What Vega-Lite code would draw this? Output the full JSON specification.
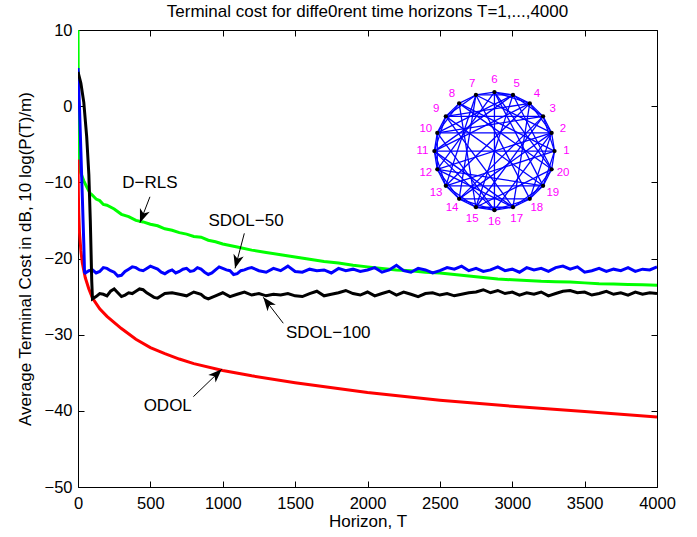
{
  "$schema": "https://vega.github.io/schema/vega-lite/v6.json",
  "width": 579,
  "height": 457,
  "autosize": "none",
  "padding": {"left": 78, "top": 30, "right": 40, "bottom": 50},
  "background": "white",
  "title": {"text": "Terminal cost for diffe0rent time horizons T=1,...,4000", "fontSize": 17, "fontWeight": "normal", "font": "Liberation Sans", "color": "black", "offset": 1},
  "config": {
    "view": {"stroke": null},
    "font": "Liberation Sans",
    "axis": {"domainColor": "black", "tickColor": "black", "labelColor": "black", "titleColor": "black", "labelFontSize": 16.5, "titleFontSize": 17, "titleFontWeight": "normal", "labelFont": "Liberation Sans", "titleFont": "Liberation Sans", "grid": false, "domainWidth": 1, "tickWidth": 1}
  },
  "datasets": {
    "curves": [
      {"s": "D-RLS", "T": 0, "v": 10}, {"s": "D-RLS", "T": 2, "v": 2}, {"s": "D-RLS", "T": 4, "v": -6}, {"s": "D-RLS", "T": 8, "v": -8}, {"s": "D-RLS", "T": 20, "v": -8.8}, {"s": "D-RLS", "T": 40, "v": -9.8}, {"s": "D-RLS", "T": 60, "v": -10.6}, {"s": "D-RLS", "T": 83, "v": -11.4}, {"s": "D-RLS", "T": 100, "v": -11.7}, {"s": "D-RLS", "T": 125, "v": -12.2}, {"s": "D-RLS", "T": 150, "v": -12.4}, {"s": "D-RLS", "T": 175, "v": -12.9}, {"s": "D-RLS", "T": 200, "v": -13.0}, {"s": "D-RLS", "T": 250, "v": -13.5}, {"s": "D-RLS", "T": 300, "v": -14.2}, {"s": "D-RLS", "T": 350, "v": -14.5}, {"s": "D-RLS", "T": 400, "v": -15.0}, {"s": "D-RLS", "T": 450, "v": -15.2}, {"s": "D-RLS", "T": 500, "v": -15.5}, {"s": "D-RLS", "T": 550, "v": -15.7}, {"s": "D-RLS", "T": 600, "v": -16.1}, {"s": "D-RLS", "T": 650, "v": -16.3}, {"s": "D-RLS", "T": 700, "v": -16.6}, {"s": "D-RLS", "T": 750, "v": -16.8}, {"s": "D-RLS", "T": 800, "v": -17.1}, {"s": "D-RLS", "T": 850, "v": -17.2}, {"s": "D-RLS", "T": 900, "v": -17.6}, {"s": "D-RLS", "T": 950, "v": -17.8}, {"s": "D-RLS", "T": 1000, "v": -18.1}, {"s": "D-RLS", "T": 1100, "v": -18.5}, {"s": "D-RLS", "T": 1200, "v": -18.9}, {"s": "D-RLS", "T": 1300, "v": -19.2}, {"s": "D-RLS", "T": 1400, "v": -19.5}, {"s": "D-RLS", "T": 1500, "v": -19.8}, {"s": "D-RLS", "T": 1600, "v": -20.1}, {"s": "D-RLS", "T": 1700, "v": -20.4}, {"s": "D-RLS", "T": 1800, "v": -20.6}, {"s": "D-RLS", "T": 1900, "v": -20.9}, {"s": "D-RLS", "T": 2000, "v": -21.1}, {"s": "D-RLS", "T": 2100, "v": -21.3}, {"s": "D-RLS", "T": 2200, "v": -21.5}, {"s": "D-RLS", "T": 2300, "v": -21.6}, {"s": "D-RLS", "T": 2400, "v": -21.8}, {"s": "D-RLS", "T": 2500, "v": -21.9}, {"s": "D-RLS", "T": 2600, "v": -22.1}, {"s": "D-RLS", "T": 2700, "v": -22.3}, {"s": "D-RLS", "T": 2800, "v": -22.5}, {"s": "D-RLS", "T": 2900, "v": -22.7}, {"s": "D-RLS", "T": 3000, "v": -22.8}, {"s": "D-RLS", "T": 3100, "v": -22.9}, {"s": "D-RLS", "T": 3200, "v": -23.0}, {"s": "D-RLS", "T": 3300, "v": -23.05}, {"s": "D-RLS", "T": 3400, "v": -23.1}, {"s": "D-RLS", "T": 3500, "v": -23.2}, {"s": "D-RLS", "T": 3600, "v": -23.3}, {"s": "D-RLS", "T": 3700, "v": -23.35}, {"s": "D-RLS", "T": 3800, "v": -23.4}, {"s": "D-RLS", "T": 3900, "v": -23.45}, {"s": "D-RLS", "T": 4000, "v": -23.5},

      {"s": "ODOL", "T": 0, "v": -7}, {"s": "ODOL", "T": 1, "v": -9}, {"s": "ODOL", "T": 3, "v": -12}, {"s": "ODOL", "T": 5, "v": -14}, {"s": "ODOL", "T": 10, "v": -16.5}, {"s": "ODOL", "T": 20, "v": -19}, {"s": "ODOL", "T": 30, "v": -20.6}, {"s": "ODOL", "T": 50, "v": -22.5}, {"s": "ODOL", "T": 75, "v": -24}, {"s": "ODOL", "T": 100, "v": -25.2}, {"s": "ODOL", "T": 150, "v": -26.6}, {"s": "ODOL", "T": 200, "v": -27.6}, {"s": "ODOL", "T": 300, "v": -29.2}, {"s": "ODOL", "T": 400, "v": -30.6}, {"s": "ODOL", "T": 500, "v": -31.7}, {"s": "ODOL", "T": 600, "v": -32.5}, {"s": "ODOL", "T": 700, "v": -33.2}, {"s": "ODOL", "T": 800, "v": -33.8}, {"s": "ODOL", "T": 1000, "v": -34.7}, {"s": "ODOL", "T": 1200, "v": -35.4}, {"s": "ODOL", "T": 1500, "v": -36.3}, {"s": "ODOL", "T": 2000, "v": -37.6}, {"s": "ODOL", "T": 2500, "v": -38.6}, {"s": "ODOL", "T": 3000, "v": -39.4}, {"s": "ODOL", "T": 3500, "v": -40.1}, {"s": "ODOL", "T": 4000, "v": -40.8},

      {"s": "SDOL-50", "T": 0, "v": 5.0}, {"s": "SDOL-50", "T": 10, "v": 0}, {"s": "SDOL-50", "T": 20, "v": -6}, {"s": "SDOL-50", "T": 30, "v": -12}, {"s": "SDOL-50", "T": 40, "v": -18}, {"s": "SDOL-50", "T": 45, "v": -21.8}, {"s": "SDOL-50", "T": 50, "v": -21.9}, {"s": "SDOL-50", "T": 75, "v": -21.6}, {"s": "SDOL-50", "T": 100, "v": -21.5}, {"s": "SDOL-50", "T": 125, "v": -21.9}, {"s": "SDOL-50", "T": 150, "v": -21.7}, {"s": "SDOL-50", "T": 175, "v": -21.2}, {"s": "SDOL-50", "T": 200, "v": -21.3}, {"s": "SDOL-50", "T": 225, "v": -21.6}, {"s": "SDOL-50", "T": 250, "v": -21.8}, {"s": "SDOL-50", "T": 275, "v": -22.3}, {"s": "SDOL-50", "T": 300, "v": -22.2}, {"s": "SDOL-50", "T": 325, "v": -21.7}, {"s": "SDOL-50", "T": 350, "v": -21.4}, {"s": "SDOL-50", "T": 375, "v": -21.1}, {"s": "SDOL-50", "T": 400, "v": -21.2}, {"s": "SDOL-50", "T": 425, "v": -21.5}, {"s": "SDOL-50", "T": 450, "v": -21.6}, {"s": "SDOL-50", "T": 475, "v": -21.3}, {"s": "SDOL-50", "T": 500, "v": -21.0}, {"s": "SDOL-50", "T": 525, "v": -21.2}, {"s": "SDOL-50", "T": 550, "v": -21.4}, {"s": "SDOL-50", "T": 575, "v": -21.8}, {"s": "SDOL-50", "T": 600, "v": -22.0}, {"s": "SDOL-50", "T": 625, "v": -21.7}, {"s": "SDOL-50", "T": 650, "v": -21.5}, {"s": "SDOL-50", "T": 675, "v": -21.9}, {"s": "SDOL-50", "T": 700, "v": -21.7}, {"s": "SDOL-50", "T": 725, "v": -21.4}, {"s": "SDOL-50", "T": 750, "v": -21.3}, {"s": "SDOL-50", "T": 775, "v": -21.7}, {"s": "SDOL-50", "T": 800, "v": -21.6}, {"s": "SDOL-50", "T": 825, "v": -21.2}, {"s": "SDOL-50", "T": 850, "v": -21.4}, {"s": "SDOL-50", "T": 875, "v": -21.8}, {"s": "SDOL-50", "T": 900, "v": -22.1}, {"s": "SDOL-50", "T": 925, "v": -21.9}, {"s": "SDOL-50", "T": 950, "v": -21.5}, {"s": "SDOL-50", "T": 975, "v": -21.1}, {"s": "SDOL-50", "T": 1000, "v": -21.3}, {"s": "SDOL-50", "T": 1025, "v": -21.5}, {"s": "SDOL-50", "T": 1050, "v": -21.6}, {"s": "SDOL-50", "T": 1075, "v": -22.1}, {"s": "SDOL-50", "T": 1100, "v": -22.0}, {"s": "SDOL-50", "T": 1125, "v": -21.6}, {"s": "SDOL-50", "T": 1150, "v": -21.5}, {"s": "SDOL-50", "T": 1175, "v": -21.3}, {"s": "SDOL-50", "T": 1200, "v": -21.2}, {"s": "SDOL-50", "T": 1250, "v": -21.6}, {"s": "SDOL-50", "T": 1300, "v": -21.8}, {"s": "SDOL-50", "T": 1350, "v": -21.3}, {"s": "SDOL-50", "T": 1400, "v": -21.6}, {"s": "SDOL-50", "T": 1450, "v": -21.0}, {"s": "SDOL-50", "T": 1500, "v": -21.7}, {"s": "SDOL-50", "T": 1550, "v": -21.8}, {"s": "SDOL-50", "T": 1600, "v": -21.4}, {"s": "SDOL-50", "T": 1650, "v": -21.6}, {"s": "SDOL-50", "T": 1700, "v": -21.5}, {"s": "SDOL-50", "T": 1750, "v": -21.9}, {"s": "SDOL-50", "T": 1800, "v": -21.3}, {"s": "SDOL-50", "T": 1850, "v": -21.6}, {"s": "SDOL-50", "T": 1900, "v": -21.4}, {"s": "SDOL-50", "T": 1950, "v": -21.7}, {"s": "SDOL-50", "T": 2000, "v": -21.5}, {"s": "SDOL-50", "T": 2050, "v": -21.2}, {"s": "SDOL-50", "T": 2100, "v": -21.8}, {"s": "SDOL-50", "T": 2150, "v": -21.5}, {"s": "SDOL-50", "T": 2200, "v": -20.9}, {"s": "SDOL-50", "T": 2250, "v": -21.6}, {"s": "SDOL-50", "T": 2300, "v": -21.8}, {"s": "SDOL-50", "T": 2350, "v": -21.3}, {"s": "SDOL-50", "T": 2400, "v": -21.5}, {"s": "SDOL-50", "T": 2450, "v": -21.9}, {"s": "SDOL-50", "T": 2500, "v": -21.6}, {"s": "SDOL-50", "T": 2550, "v": -21.2}, {"s": "SDOL-50", "T": 2600, "v": -21.4}, {"s": "SDOL-50", "T": 2650, "v": -21.0}, {"s": "SDOL-50", "T": 2700, "v": -21.6}, {"s": "SDOL-50", "T": 2750, "v": -21.3}, {"s": "SDOL-50", "T": 2800, "v": -21.7}, {"s": "SDOL-50", "T": 2850, "v": -21.5}, {"s": "SDOL-50", "T": 2900, "v": -21.1}, {"s": "SDOL-50", "T": 2950, "v": -21.6}, {"s": "SDOL-50", "T": 3000, "v": -21.4}, {"s": "SDOL-50", "T": 3050, "v": -21.8}, {"s": "SDOL-50", "T": 3100, "v": -21.2}, {"s": "SDOL-50", "T": 3150, "v": -21.5}, {"s": "SDOL-50", "T": 3200, "v": -21.3}, {"s": "SDOL-50", "T": 3250, "v": -21.7}, {"s": "SDOL-50", "T": 3300, "v": -21.2}, {"s": "SDOL-50", "T": 3350, "v": -21.0}, {"s": "SDOL-50", "T": 3400, "v": -21.4}, {"s": "SDOL-50", "T": 3450, "v": -21.1}, {"s": "SDOL-50", "T": 3500, "v": -21.8}, {"s": "SDOL-50", "T": 3550, "v": -21.6}, {"s": "SDOL-50", "T": 3600, "v": -21.3}, {"s": "SDOL-50", "T": 3650, "v": -21.7}, {"s": "SDOL-50", "T": 3700, "v": -21.4}, {"s": "SDOL-50", "T": 3750, "v": -21.6}, {"s": "SDOL-50", "T": 3800, "v": -21.2}, {"s": "SDOL-50", "T": 3850, "v": -21.7}, {"s": "SDOL-50", "T": 3900, "v": -21.4}, {"s": "SDOL-50", "T": 3950, "v": -21.5}, {"s": "SDOL-50", "T": 4000, "v": -21.1},

      {"s": "SDOL-100", "T": 0, "v": 4.5}, {"s": "SDOL-100", "T": 20, "v": 3}, {"s": "SDOL-100", "T": 40, "v": 0.5}, {"s": "SDOL-100", "T": 60, "v": -4}, {"s": "SDOL-100", "T": 75, "v": -9}, {"s": "SDOL-100", "T": 85, "v": -15}, {"s": "SDOL-100", "T": 95, "v": -23}, {"s": "SDOL-100", "T": 100, "v": -25.3}, {"s": "SDOL-100", "T": 125, "v": -25.0}, {"s": "SDOL-100", "T": 150, "v": -24.6}, {"s": "SDOL-100", "T": 175, "v": -24.7}, {"s": "SDOL-100", "T": 200, "v": -24.9}, {"s": "SDOL-100", "T": 225, "v": -24.3}, {"s": "SDOL-100", "T": 250, "v": -24.0}, {"s": "SDOL-100", "T": 275, "v": -24.5}, {"s": "SDOL-100", "T": 300, "v": -25.0}, {"s": "SDOL-100", "T": 325, "v": -24.8}, {"s": "SDOL-100", "T": 350, "v": -24.5}, {"s": "SDOL-100", "T": 375, "v": -24.6}, {"s": "SDOL-100", "T": 400, "v": -24.3}, {"s": "SDOL-100", "T": 425, "v": -24.0}, {"s": "SDOL-100", "T": 450, "v": -24.1}, {"s": "SDOL-100", "T": 475, "v": -24.5}, {"s": "SDOL-100", "T": 500, "v": -24.8}, {"s": "SDOL-100", "T": 525, "v": -25.1}, {"s": "SDOL-100", "T": 550, "v": -25.2}, {"s": "SDOL-100", "T": 575, "v": -24.9}, {"s": "SDOL-100", "T": 600, "v": -24.6}, {"s": "SDOL-100", "T": 650, "v": -24.5}, {"s": "SDOL-100", "T": 700, "v": -24.7}, {"s": "SDOL-100", "T": 750, "v": -24.9}, {"s": "SDOL-100", "T": 800, "v": -24.4}, {"s": "SDOL-100", "T": 850, "v": -24.7}, {"s": "SDOL-100", "T": 875, "v": -25.1}, {"s": "SDOL-100", "T": 900, "v": -25.3}, {"s": "SDOL-100", "T": 950, "v": -24.9}, {"s": "SDOL-100", "T": 1000, "v": -24.5}, {"s": "SDOL-100", "T": 1050, "v": -25.0}, {"s": "SDOL-100", "T": 1100, "v": -24.7}, {"s": "SDOL-100", "T": 1150, "v": -24.4}, {"s": "SDOL-100", "T": 1200, "v": -24.8}, {"s": "SDOL-100", "T": 1250, "v": -24.6}, {"s": "SDOL-100", "T": 1300, "v": -24.9}, {"s": "SDOL-100", "T": 1350, "v": -24.7}, {"s": "SDOL-100", "T": 1400, "v": -24.8}, {"s": "SDOL-100", "T": 1450, "v": -24.6}, {"s": "SDOL-100", "T": 1500, "v": -24.9}, {"s": "SDOL-100", "T": 1550, "v": -25.0}, {"s": "SDOL-100", "T": 1600, "v": -24.6}, {"s": "SDOL-100", "T": 1650, "v": -24.3}, {"s": "SDOL-100", "T": 1700, "v": -24.9}, {"s": "SDOL-100", "T": 1750, "v": -24.7}, {"s": "SDOL-100", "T": 1800, "v": -24.5}, {"s": "SDOL-100", "T": 1850, "v": -24.2}, {"s": "SDOL-100", "T": 1900, "v": -24.6}, {"s": "SDOL-100", "T": 1950, "v": -24.8}, {"s": "SDOL-100", "T": 2000, "v": -24.4}, {"s": "SDOL-100", "T": 2050, "v": -24.9}, {"s": "SDOL-100", "T": 2100, "v": -24.6}, {"s": "SDOL-100", "T": 2150, "v": -24.3}, {"s": "SDOL-100", "T": 2200, "v": -24.8}, {"s": "SDOL-100", "T": 2250, "v": -24.4}, {"s": "SDOL-100", "T": 2300, "v": -24.7}, {"s": "SDOL-100", "T": 2350, "v": -25.0}, {"s": "SDOL-100", "T": 2400, "v": -24.6}, {"s": "SDOL-100", "T": 2450, "v": -24.5}, {"s": "SDOL-100", "T": 2500, "v": -24.8}, {"s": "SDOL-100", "T": 2550, "v": -24.6}, {"s": "SDOL-100", "T": 2600, "v": -24.9}, {"s": "SDOL-100", "T": 2650, "v": -24.7}, {"s": "SDOL-100", "T": 2700, "v": -24.5}, {"s": "SDOL-100", "T": 2750, "v": -24.4}, {"s": "SDOL-100", "T": 2800, "v": -24.1}, {"s": "SDOL-100", "T": 2850, "v": -24.5}, {"s": "SDOL-100", "T": 2900, "v": -24.2}, {"s": "SDOL-100", "T": 2950, "v": -24.6}, {"s": "SDOL-100", "T": 3000, "v": -24.4}, {"s": "SDOL-100", "T": 3050, "v": -24.8}, {"s": "SDOL-100", "T": 3100, "v": -24.5}, {"s": "SDOL-100", "T": 3150, "v": -24.7}, {"s": "SDOL-100", "T": 3200, "v": -24.4}, {"s": "SDOL-100", "T": 3250, "v": -24.9}, {"s": "SDOL-100", "T": 3300, "v": -24.6}, {"s": "SDOL-100", "T": 3350, "v": -24.3}, {"s": "SDOL-100", "T": 3400, "v": -24.2}, {"s": "SDOL-100", "T": 3450, "v": -24.5}, {"s": "SDOL-100", "T": 3500, "v": -24.4}, {"s": "SDOL-100", "T": 3550, "v": -24.8}, {"s": "SDOL-100", "T": 3600, "v": -24.6}, {"s": "SDOL-100", "T": 3650, "v": -24.3}, {"s": "SDOL-100", "T": 3700, "v": -24.7}, {"s": "SDOL-100", "T": 3750, "v": -24.5}, {"s": "SDOL-100", "T": 3800, "v": -24.8}, {"s": "SDOL-100", "T": 3850, "v": -24.4}, {"s": "SDOL-100", "T": 3900, "v": -24.7}, {"s": "SDOL-100", "T": 3950, "v": -24.5}, {"s": "SDOL-100", "T": 4000, "v": -24.6}
    ],
    "nodes": [
      {"id": 1, "x": 3292, "y": -5.9, "lx": 3375, "ly": -5.9},
      {"id": 2, "x": 3272, "y": -3.51, "lx": 3351, "ly": -3.03},
      {"id": 3, "x": 3213, "y": -1.34, "lx": 3280, "ly": -0.43},
      {"id": 4, "x": 3121, "y": 0.37, "lx": 3170, "ly": 1.62},
      {"id": 5, "x": 3005, "y": 1.47, "lx": 3031, "ly": 2.95},
      {"id": 6, "x": 2877, "y": 1.85, "lx": 2877, "ly": 3.4},
      {"id": 7, "x": 2749, "y": 1.47, "lx": 2723, "ly": 2.95},
      {"id": 8, "x": 2633, "y": 0.37, "lx": 2584, "ly": 1.62},
      {"id": 9, "x": 2541, "y": -1.34, "lx": 2474, "ly": -0.43},
      {"id": 10, "x": 2482, "y": -3.51, "lx": 2403, "ly": -3.03},
      {"id": 11, "x": 2462, "y": -5.9, "lx": 2379, "ly": -5.9},
      {"id": 12, "x": 2482, "y": -8.29, "lx": 2403, "ly": -8.77},
      {"id": 13, "x": 2541, "y": -10.46, "lx": 2474, "ly": -11.37},
      {"id": 14, "x": 2633, "y": -12.17, "lx": 2584, "ly": -13.42},
      {"id": 15, "x": 2749, "y": -13.27, "lx": 2723, "ly": -14.75},
      {"id": 16, "x": 2877, "y": -13.65, "lx": 2877, "ly": -15.2},
      {"id": 17, "x": 3005, "y": -13.27, "lx": 3031, "ly": -14.75},
      {"id": 18, "x": 3121, "y": -12.17, "lx": 3170, "ly": -13.42},
      {"id": 19, "x": 3213, "y": -10.46, "lx": 3280, "ly": -11.37},
      {"id": 20, "x": 3272, "y": -8.29, "lx": 3351, "ly": -8.77}
    ],
    "edges": [
      {"a": 1, "b": 2}, {"a": 2, "b": 3}, {"a": 3, "b": 4}, {"a": 4, "b": 5}, {"a": 5, "b": 6}, {"a": 6, "b": 7}, {"a": 7, "b": 8}, {"a": 8, "b": 9}, {"a": 9, "b": 10}, {"a": 10, "b": 11}, {"a": 11, "b": 12}, {"a": 12, "b": 13}, {"a": 13, "b": 14}, {"a": 14, "b": 15}, {"a": 15, "b": 16}, {"a": 16, "b": 17}, {"a": 17, "b": 18}, {"a": 18, "b": 19}, {"a": 19, "b": 20}, {"a": 20, "b": 1},
      {"a": 1, "b": 11}, {"a": 6, "b": 16}, {"a": 14, "b": 18}, {"a": 1, "b": 8}, {"a": 1, "b": 13}, {"a": 2, "b": 10}, {"a": 2, "b": 12}, {"a": 2, "b": 16}, {"a": 3, "b": 9}, {"a": 3, "b": 14}, {"a": 4, "b": 11}, {"a": 4, "b": 13}, {"a": 4, "b": 17}, {"a": 5, "b": 10}, {"a": 5, "b": 15}, {"a": 5, "b": 20}, {"a": 6, "b": 12}, {"a": 6, "b": 19}, {"a": 7, "b": 2}, {"a": 7, "b": 13}, {"a": 7, "b": 18}, {"a": 8, "b": 20}, {"a": 8, "b": 15}, {"a": 9, "b": 4}, {"a": 9, "b": 17}, {"a": 9, "b": 19}, {"a": 10, "b": 3}, {"a": 10, "b": 16}, {"a": 11, "b": 5}, {"a": 11, "b": 17}, {"a": 12, "b": 19}, {"a": 13, "b": 19}, {"a": 14, "b": 2}, {"a": 14, "b": 7}, {"a": 15, "b": 3}, {"a": 15, "b": 20}, {"a": 16, "b": 11}, {"a": 17, "b": 12}, {"a": 18, "b": 2}, {"a": 20, "b": 6}, {"a": 1, "b": 3}, {"a": 5, "b": 7}, {"a": 9, "b": 11}, {"a": 13, "b": 15}, {"a": 17, "b": 19}, {"a": 2, "b": 4}, {"a": 4, "b": 6}, {"a": 8, "b": 10}, {"a": 12, "b": 14}, {"a": 16, "b": 18}, {"a": 18, "b": 20}, {"a": 10, "b": 12}, {"a": 11, "b": 13}, {"a": 15, "b": 17}, {"a": 3, "b": 5}, {"a": 7, "b": 9}, {"a": 19, "b": 1}, {"a": 14, "b": 16}
    ],
    "notes": [
      {"label": "D−RLS", "tx": 497, "ty": -10.13, "sx": 497, "sy": -11.9, "ex": 428, "ey": -15.3},
      {"label": "SDOL−50", "tx": 1161, "ty": -15.05, "sx": 1149, "sy": -16.7, "ex": 1085, "ey": -21.29},
      {"label": "SDOL−100", "tx": 1729, "ty": -29.82, "sx": 1418, "sy": -28.5, "ex": 1280, "ey": -25.09},
      {"label": "ODOL", "tx": 620, "ty": -39.36, "sx": 797, "sy": -38.14, "ex": 993, "ey": -34.55}
    ]
  },
  "layer": [
    {
      "data": {"name": "curves"},
      "transform": [{"filter": "datum.s === 'D-RLS'"}],
      "mark": {"type": "line", "color": "#00ff00", "strokeWidth": 3, "clip": true},
      "encoding": {
        "x": {"field": "T", "type": "quantitative", "scale": {"domain": [0, 4000], "nice": false, "zero": false},
              "axis": {"orient": "bottom", "values": [0, 500, 1000, 1500, 2000, 2500, 3000, 3500, 4000], "format": "d", "tickSize": -6, "labelPadding": 14, "title": "Horizon, T", "titlePadding": 2, "labelFlush": false, "labelOverlap": false}},
        "y": {"field": "v", "type": "quantitative", "scale": {"domain": [-50, 10], "nice": false, "zero": false},
              "axis": {"orient": "left", "values": [-50, -40, -30, -20, -10, 0, 10], "format": "d", "tickSize": -6, "labelPadding": 12, "title": "Average Terminal Cost in dB, 10 log(P(T)/m)", "titlePadding": 10, "labelFlush": false, "labelOverlap": false}}
      }
    },
    {
      "data": {"name": "curves"},
      "transform": [{"filter": "datum.s === 'ODOL'"}],
      "mark": {"type": "line", "color": "#ff0000", "strokeWidth": 3, "clip": true},
      "encoding": {
        "x": {"field": "T", "type": "quantitative", "axis": {"orient": "top", "values": [0, 500, 1000, 1500, 2000, 2500, 3000, 3500, 4000], "tickSize": -6, "labels": false, "title": null}},
        "y": {"field": "v", "type": "quantitative", "axis": {"orient": "right", "values": [-50, -40, -30, -20, -10, 0, 10], "tickSize": -6, "labels": false, "title": null}}
      }
    },
    {
      "data": {"name": "curves"},
      "transform": [{"filter": "datum.s === 'SDOL-50'"}],
      "mark": {"type": "line", "color": "#0000ff", "strokeWidth": 3, "clip": true},
      "encoding": {
        "x": {"field": "T", "type": "quantitative", "axis": null},
        "y": {"field": "v", "type": "quantitative", "axis": null}
      }
    },
    {
      "data": {"name": "curves"},
      "transform": [{"filter": "datum.s === 'SDOL-100'"}],
      "mark": {"type": "line", "color": "#000000", "strokeWidth": 3, "clip": true},
      "encoding": {
        "x": {"field": "T", "type": "quantitative", "axis": null},
        "y": {"field": "v", "type": "quantitative", "axis": null}
      }
    },
    {
      "data": {"name": "edges"},
      "transform": [
        {"lookup": "a", "from": {"data": {"name": "nodes"}, "key": "id", "fields": ["x", "y"]}, "as": ["ax", "ay"]},
        {"lookup": "b", "from": {"data": {"name": "nodes"}, "key": "id", "fields": ["x", "y"]}, "as": ["bx", "by"]}
      ],
      "mark": {"type": "rule", "color": "#0000ff", "strokeWidth": 1.3},
      "encoding": {
        "x": {"field": "ax", "type": "quantitative", "axis": null},
        "y": {"field": "ay", "type": "quantitative", "axis": null},
        "x2": {"field": "bx"},
        "y2": {"field": "by"}
      }
    },
    {
      "data": {"name": "nodes"},
      "mark": {"type": "point", "filled": true, "color": "#000000", "size": 18, "opacity": 1},
      "encoding": {
        "x": {"field": "x", "type": "quantitative", "axis": null},
        "y": {"field": "y", "type": "quantitative", "axis": null}
      }
    },
    {
      "data": {"name": "nodes"},
      "mark": {"type": "text", "color": "#ff00ff", "fontSize": 11.5, "align": "center", "baseline": "middle", "font": "Liberation Sans"},
      "encoding": {
        "x": {"field": "lx", "type": "quantitative", "axis": null},
        "y": {"field": "ly", "type": "quantitative", "axis": null},
        "text": {"field": "id"}
      }
    },
    {
      "data": {"name": "notes"},
      "mark": {"type": "rule", "color": "#000000", "strokeWidth": 1},
      "encoding": {
        "x": {"field": "sx", "type": "quantitative", "axis": null},
        "y": {"field": "sy", "type": "quantitative", "axis": null},
        "x2": {"field": "ex"},
        "y2": {"field": "ey"}
      }
    },
    {
      "data": {"name": "notes"},
      "transform": [{"filter": "datum.label === 'D−RLS'"}],
      "mark": {"type": "point", "shape": "M0,0 L1,2.6 L0,1.9 L-1,2.6 Z", "filled": true, "color": "#000000", "opacity": 1, "size": 110, "angle": 201},
      "encoding": {"x": {"field": "ex", "type": "quantitative", "axis": null}, "y": {"field": "ey", "type": "quantitative", "axis": null}}
    },
    {
      "data": {"name": "notes"},
      "transform": [{"filter": "datum.label === 'SDOL−50'"}],
      "mark": {"type": "point", "shape": "M0,0 L1,2.6 L0,1.9 L-1,2.6 Z", "filled": true, "color": "#000000", "opacity": 1, "size": 110, "angle": 195},
      "encoding": {"x": {"field": "ex", "type": "quantitative", "axis": null}, "y": {"field": "ey", "type": "quantitative", "axis": null}}
    },
    {
      "data": {"name": "notes"},
      "transform": [{"filter": "datum.label === 'SDOL−100'"}],
      "mark": {"type": "point", "shape": "M0,0 L1,2.6 L0,1.9 L-1,2.6 Z", "filled": true, "color": "#000000", "opacity": 1, "size": 110, "angle": 322},
      "encoding": {"x": {"field": "ex", "type": "quantitative", "axis": null}, "y": {"field": "ey", "type": "quantitative", "axis": null}}
    },
    {
      "data": {"name": "notes"},
      "transform": [{"filter": "datum.label === 'ODOL'"}],
      "mark": {"type": "point", "shape": "M0,0 L1,2.6 L0,1.9 L-1,2.6 Z", "filled": true, "color": "#000000", "opacity": 1, "size": 110, "angle": 46},
      "encoding": {"x": {"field": "ex", "type": "quantitative", "axis": null}, "y": {"field": "ey", "type": "quantitative", "axis": null}}
    },
    {
      "data": {"name": "notes"},
      "mark": {"type": "text", "color": "#000000", "fontSize": 17, "align": "center", "baseline": "middle", "font": "Liberation Sans"},
      "encoding": {
        "x": {"field": "tx", "type": "quantitative", "axis": null},
        "y": {"field": "ty", "type": "quantitative", "axis": null},
        "text": {"field": "label"}
      }
    }
  ],
  "resolve": {"axis": {"x": "independent", "y": "independent"}}
}
